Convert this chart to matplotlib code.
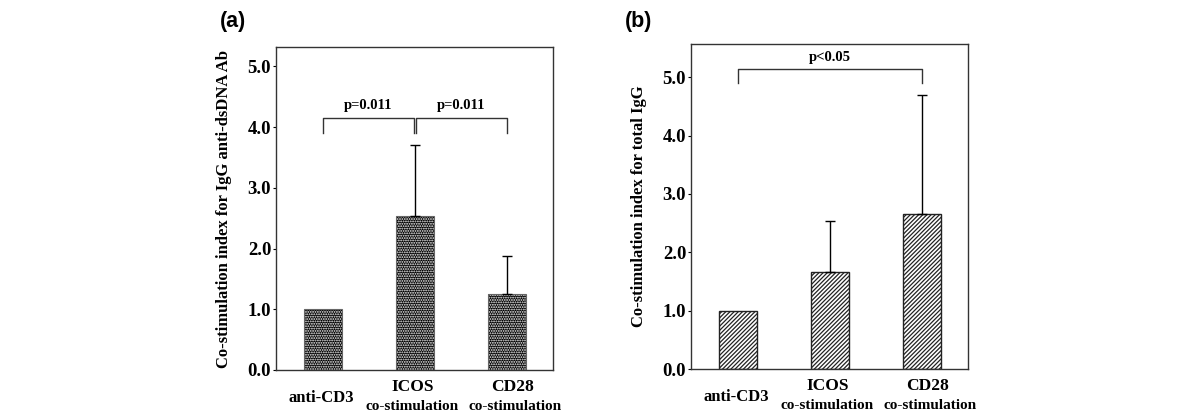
import matplotlib
matplotlib.use("Agg")
import matplotlib.pyplot as plt

# values
groups = ["anti-CD3", "ICOS", "CD28"]
a_means = [1.0, 2.54, 1.25]
a_err = [0.0, 1.17, 0.63]
b_means = [1.0, 1.67, 2.65]
b_err = [0.0, 0.87, 2.05]

a_pvals = [(0, 1, "p=0.011"), (1, 2, "p=0.011")]
b_pvals = [(0, 2, "p<0.05")]

plt.rcParams['font.family'] = ['Liberation Serif', 'DejaVu Serif']
plt.rcParams['font.weight'] = 'bold'
plt.rcParams['hatch.linewidth'] = 0.9

fig = plt.figure(figsize=(12, 4.2), dpi=100)

# small horizontal nudges of the category labels (points), as in the original
name_shift = [-1.5, -1.5, 4]
sub_shift = [0, -2, 6]


def tick_labels(ax):
    for i, g in enumerate(groups):
        if i == 0:
            ax.annotate(g, xy=(i, 0), xycoords=('data', 'axes fraction'),
                        xytext=(name_shift[i], -20.5), textcoords='offset points',
                        ha='center', va='center', fontsize=12, fontweight='bold')
        else:
            ax.annotate(g, xy=(i, 0), xycoords=('data', 'axes fraction'),
                        xytext=(name_shift[i], -12.5), textcoords='offset points',
                        ha='center', va='center', fontsize=12.5, fontweight='bold')
            ax.annotate("co-stimulation", xy=(i, 0), xycoords=('data', 'axes fraction'),
                        xytext=(sub_shift[i], -26.5), textcoords='offset points',
                        ha='center', va='center', fontsize=11, fontweight='bold')


def bracket(ax, x1, x2, y, drop, text, ty):
    ax.plot([x1, x1, x2, x2], [y - drop, y, y, y - drop], color='#333333', lw=1)
    ax.text((x1 + x2) / 2, ty, text, ha='center', va='center', fontsize=10.5, fontweight='bold')


def panel(ax, means, err, ymax, style):
    x = range(len(groups))
    if style == 'dots':
        ax.bar(x, means, width=0.41, color='black', edgecolor='white', hatch='.......', lw=0)
        ax.bar(x, means, width=0.41, fill=False, edgecolor='#666666', lw=0.8)
    else:
        ax.bar(x, means, width=0.41, color='white', edgecolor='#222222', hatch='////////', lw=1)
    for i in x:
        if err[i] > 0:
            ax.errorbar(i, means[i], yerr=[[0], [err[i]]], color='black', lw=1,
                        capsize=3.5, capthick=1)
    ax.set_xlim(-0.51, 2.5)
    ax.set_ylim(0, ymax)
    ax.set_xticks([])
    ax.set_yticks([0, 1, 2, 3, 4, 5])
    ax.set_yticklabels(["%.1f" % v for v in range(6)], fontsize=13.5, fontweight='bold')
    ax.tick_params(axis='y', length=2, width=0.8, pad=1.5)
    for s in ax.spines.values():
        s.set_color('#333333')
        s.set_linewidth(1)
    tick_labels(ax)


ax1 = fig.add_axes([276 / 1200, 1 - 370 / 420, 277 / 1200, 323 / 420])
panel(ax1, a_means, a_err, 5.32, 'dots')
for x1, x2, t in a_pvals:
    bracket(ax1, x1 + (0.01 if x1 == 1 else 0), x2 - (0.01 if x2 == 1 else 0), 4.15, 0.25, t, 4.36)
ax1.set_ylabel("Co-stimulation index for IgG anti-dsDNA Ab", fontsize=12, fontweight='bold', labelpad=11)
fig.text(233 / 1200, 1 - 21 / 420, "(a)", family='Liberation Sans', fontsize=15.5,
         fontweight='bold', ha='center', va='center')

ax2 = fig.add_axes([691 / 1200, 1 - 369 / 420, 277 / 1200, 325 / 420])
panel(ax2, b_means, b_err, 5.57, 'hatch')
for x1, x2, t in b_pvals:
    bracket(ax2, x1, x2, 5.15, 0.25, t, 5.34)
ax2.set_ylabel("Co-stimulation index for total IgG", fontsize=12, fontweight='bold', labelpad=11)
fig.text(639 / 1200, 1 - 21 / 420, "(b)", family='Liberation Sans', fontsize=15.5,
         fontweight='bold', ha='center', va='center')

fig.savefig("out.png", dpi=100)
